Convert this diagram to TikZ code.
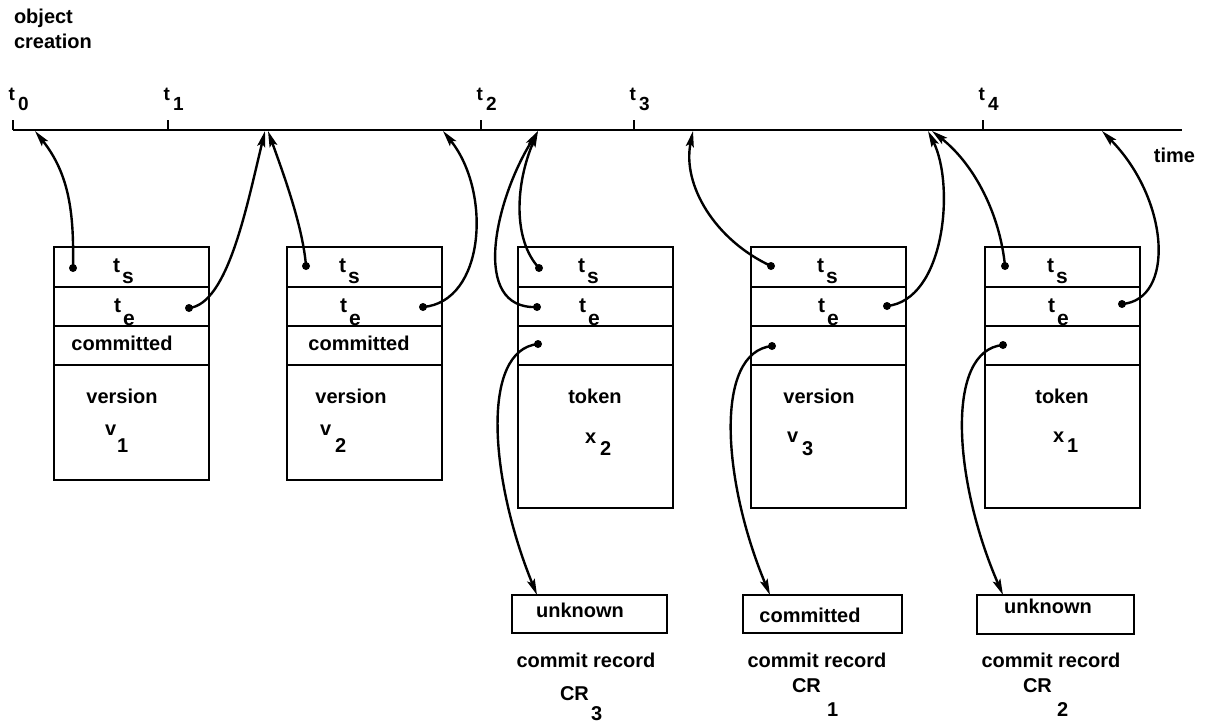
\documentclass[tikz,border=0pt]{standalone}
\usepackage{fontspec}
\setmainfont{Liberation Sans}
\usetikzlibrary{arrows.meta}
\begin{document}
\begin{tikzpicture}[x=1pt,y=-1pt,
  every node/.style={inner sep=0pt, outer sep=0pt, font=\bfseries\fontsize{20}{24}\selectfont},
  rec/.style={draw, line width=2.2pt, anchor=north west},
  ln/.style={line width=2.2pt},
  arr/.style={line width=2.4pt, -{Stealth[length=16pt,width=8pt,inset=3pt]}},
  dot/.style={circle, fill, inner sep=0pt, minimum size=8pt},
  tk/.style={font=\bfseries\fontsize{19}{20}\selectfont},
  bt/.style={font=\bfseries\fontsize{21}{24}\selectfont}]
\useasboundingbox (0,0) rectangle (1207,723);

% title
\node[anchor=base west] (obj) at (14,23) {object};
\node[anchor=base west] (cre) at (14,48) {creation};

% timeline
\coordinate (L) at (13,130);
\coordinate (R) at (1182,130);
\draw[ln] (L) -- (R);
\node[anchor=base east] (time) at (1195,162) {time};
\foreach \i/\x in {0/13,1/168,2/481,3/634,4/983}{
  \coordinate (k\i) at (\x,130);
  \draw[ln] (k\i) -- ++(0,-10);
  \node[tk, anchor=base east] (tl\i) at (\x+2,100) {t};
  \node[tk, anchor=base west] (ts\i) at (\x+5,110) {\i};
}

% object boxes
\foreach \n/\x/\h in {1/54/233,2/287/233,3/518/261,4/751/261,5/985/261}{
  \node[rec, minimum width=155pt, minimum height=\h pt] (b\n) at (\x,247) {};
  \draw[ln] (\x,287) -- ++(155,0);
  \draw[ln] (\x,326) -- ++(155,0);
  \draw[ln] (\x,365) -- ++(155,0);
}
% t_s / t_e labels
\foreach \n/\x in {1/113,2/339,3/578,4/817,5/1047}{
  \node[bt, anchor=base west] (tsa\n) at (\x,272) {t};
  \node[bt, anchor=base west] (tsb\n) at (\x+9,283) {s};
  \node[bt, anchor=base west] (tea\n) at (\x+1,312) {t};
  \node[bt, anchor=base west] (teb\n) at (\x+10,325) {e};
}
\node[anchor=base] (cm1) at (122,350) {committed};
\node[anchor=base] (cm2) at (359,350) {committed};

\node[anchor=base] (ty1) at (122,403) {version};
\node[anchor=base west] (va1) at (105,435) {v};
\node[anchor=base west] (vb1) at (117,452) {1};
\node[anchor=base] (ty2) at (351,403) {version};
\node[anchor=base west] (va2) at (320,435) {v};
\node[anchor=base west] (vb2) at (335,452) {2};
\node[anchor=base] (ty3) at (595,403) {token};
\node[anchor=base west] (va3) at (585,443) {x};
\node[anchor=base west] (vb3) at (600,455) {2};
\node[anchor=base] (ty4) at (819,403) {version};
\node[anchor=base west] (va4) at (787,442) {v};
\node[anchor=base west] (vb4) at (802,455) {3};
\node[anchor=base] (ty5) at (1062,403) {token};
\node[anchor=base west] (va5) at (1053,442) {x};
\node[anchor=base west] (vb5) at (1067,452) {1};

% commit records
\node[rec, minimum width=155pt, minimum height=38pt] (cr3) at (512,595) {};
\node[rec, minimum width=159pt, minimum height=38pt] (cr1) at (743,595) {};
\node[rec, minimum width=157pt, minimum height=39pt] (cr2) at (977,595) {};
\node[anchor=base] (u3) at (580,617) {unknown};
\node[anchor=base] (u1) at (810,622) {committed};
\node[anchor=base] (u2) at (1048,613) {unknown};
\node[anchor=base] (r3) at (586,667) {commit record};
\node[anchor=base] (r1) at (817,667) {commit record};
\node[anchor=base] (r2) at (1051,667) {commit record};
\node[anchor=base west] (q3) at (560,700) {CR};
\node[anchor=base west] (p3) at (591,720) {3};
\node[anchor=base west] (q1) at (792,692) {CR};
\node[anchor=base west] (p1) at (827,716) {1};
\node[anchor=base west] (q2) at (1023,692) {CR};
\node[anchor=base west] (p2) at (1057,716) {2};

% dots
\node[dot] (s1) at (73,268) {};
\node[dot] (e1) at (189,308) {};
\node[dot] (s2) at (306,266) {};
\node[dot] (e2) at (423,307) {};
\node[dot] (s3) at (539,268) {};
\node[dot] (e3) at (537,307) {};
\node[dot] (c3) at (538,344) {};
\node[dot] (s4) at (771,266) {};
\node[dot] (e4) at (887,306) {};
\node[dot] (c4) at (772,346) {};
\node[dot] (s5) at (1005,266) {};
\node[dot] (e5) at (1122,304) {};
\node[dot] (c5) at (1003,345) {};

% arrow targets on the time line
\coordinate (T1) at (35,131);
\coordinate (T2) at (265,131);
\coordinate (T3) at (268,131);
\coordinate (T4) at (443,131);
\coordinate (T5) at (538,131);
\coordinate (T7) at (693,131);
\coordinate (T8) at (928,131);
\coordinate (T9) at (932,131);
\coordinate (T10) at (1102,131);
\coordinate (P3) at (537,595);
\coordinate (P1) at (770,595);
\coordinate (P2) at (1003,595);

\draw[arr] (s1.center) .. controls (74,215) and (70,175) .. (T1);
\draw[arr] (e1.center) .. controls (228,304) and (247,205) .. (T2);
\draw[arr] (s2.center) .. controls (303,228) and (285,178) .. (T3);
\draw[arr] (e2.center) .. controls (485,302) and (492,192) .. (T4);
\draw[arr] (s3.center) .. controls (513,240) and (515,185) .. (T5);
\draw[arr] (e3.center) .. controls (470,310) and (495,200) .. (T5);
\draw[arr] (s4.center) .. controls (715,240) and (682,185) .. (T7);
\draw[arr] (e4.center) .. controls (945,300) and (955,185) .. (T8);
\draw[arr] (s5.center) .. controls (1000,215) and (975,165) .. (T9);
\draw[arr] (e5.center) .. controls (1175,300) and (1170,200) .. (T10);
\draw[arr] (c3.center) .. controls (480,350) and (490,480) .. (P3);
\draw[arr] (c4.center) .. controls (714,352) and (722,480) .. (P1);
\draw[arr] (c5.center) .. controls (945,350) and (953,480) .. (P2);
\end{tikzpicture}
\end{document}
